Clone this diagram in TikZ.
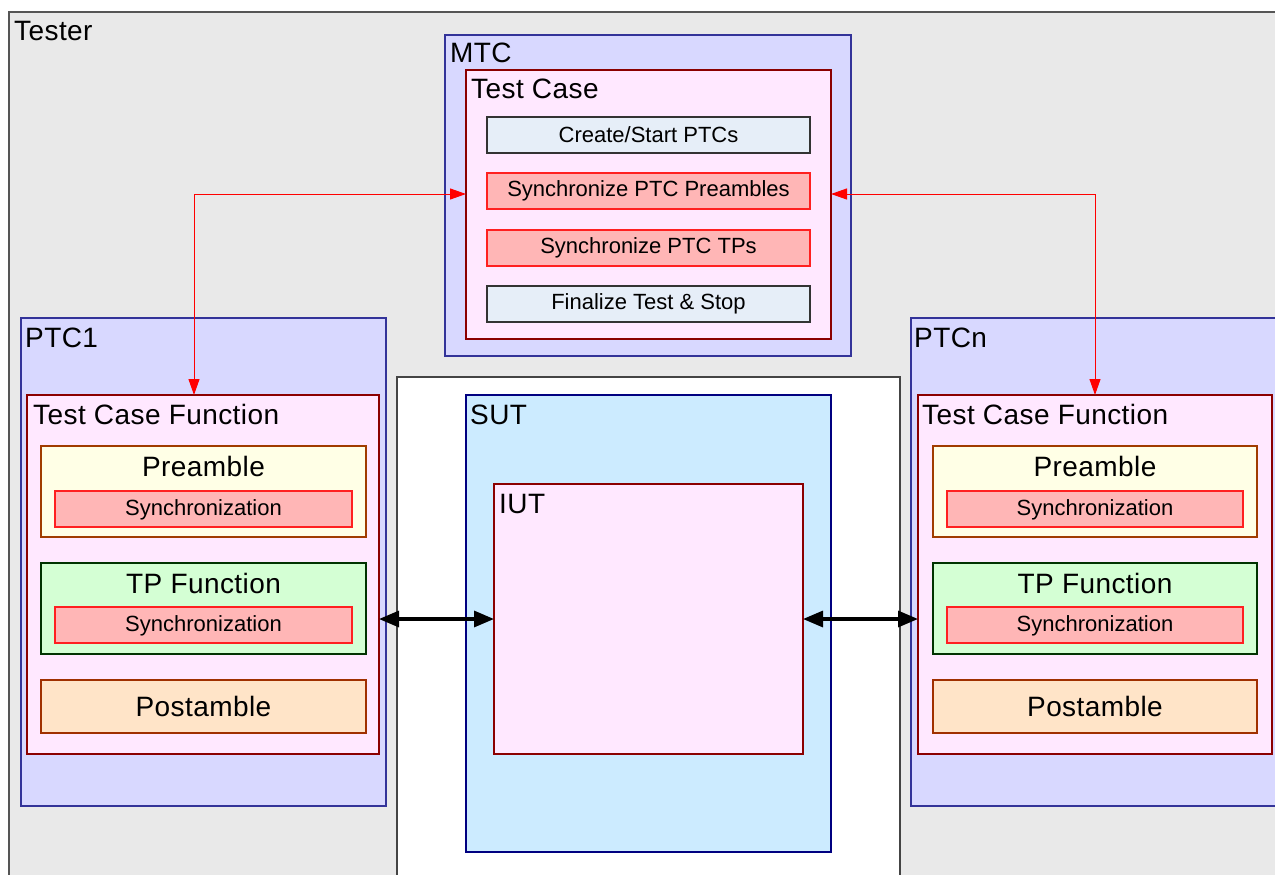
\documentclass[tikz,border=0pt]{standalone}
\usepackage{fontspec}
\setmainfont{Liberation Sans}
\newfontfamily\lblfont[LetterSpace=1.5]{Liberation Sans}
\usetikzlibrary{arrows.meta}
\definecolor{testerfill}{HTML}{E9E9E9}
\definecolor{testerdraw}{HTML}{555555}
\definecolor{ptcfill}{HTML}{D8D8FF}
\definecolor{ptcdraw}{HTML}{333399}
\definecolor{pinkfill}{HTML}{FFE8FF}
\definecolor{pinkdraw}{HTML}{8B0000}
\definecolor{stepfill}{HTML}{E6EEF8}
\definecolor{stepdraw}{HTML}{333333}
\definecolor{syncfill}{HTML}{FFB6B6}
\definecolor{syncdraw}{HTML}{FF2020}
\definecolor{prefill}{HTML}{FFFFE6}
\definecolor{predraw}{HTML}{A03C00}
\definecolor{tpfill}{HTML}{D4FFD4}
\definecolor{tpdraw}{HTML}{003300}
\definecolor{postfill}{HTML}{FFE4C8}
\definecolor{postdraw}{HTML}{A03000}
\definecolor{sutfill}{HTML}{CCEBFF}
\definecolor{sutdraw}{HTML}{000080}
\definecolor{envdraw}{HTML}{444444}
\tikzset{
  box/.style={draw, line width=1.2pt, inner sep=0pt, outer sep=0pt, anchor=north west},
  lbl/.style={inner sep=0pt, anchor=base west, font=\lblfont\fontsize{28}{32}\selectfont},
  mid/.style={inner sep=0pt, anchor=base, font=\lblfont\fontsize{28}{32}\selectfont},
  small/.style={inner sep=0pt, font=\fontsize{22}{26}\selectfont},
  redarr/.style={draw=red, line width=1pt, {Triangle[length=16pt,width=11pt]}-{Triangle[length=16pt,width=11pt]}, red},
  blkarr/.style={draw=black, line width=3.2pt, {Triangle[length=20pt,width=16pt]}-{Triangle[length=20pt,width=16pt]}}
}
\begin{document}
\begin{tikzpicture}[x=1pt,y=-1pt]
\useasboundingbox (0,0) rectangle (1275,875);
\clip (0,0) rectangle (1275,875);
% Tester
\node[box, fill=testerfill, draw=testerdraw, line width=2pt, minimum width=1300pt, minimum height=900pt] (tester) at (9,12) {};
\node[lbl] (ttester) at (14,41) {Tester};
% MTC
\node[box, fill=ptcfill, draw=ptcdraw, minimum width=406pt, minimum height=321pt] (mtc) at (445,35) {};
\node[lbl] (tmtc) at (450,63) {MTC};
\node[box, fill=pinkfill, draw=pinkdraw, minimum width=365pt, minimum height=269pt] (tc) at (466,70) {};
\node[lbl] (ttc) at (471,99) {Test Case};
\node[box, fill=stepfill, draw=stepdraw, minimum width=323pt, minimum height=36pt] (s1) at (487,117) {};
\node[small] at (s1.center) {Create/Start PTCs};
\node[box, fill=syncfill, draw=syncdraw, minimum width=323pt, minimum height=36pt] (s2) at (487,173) {};
\node[small] at (s2.center) {Synchronize PTC Preambles};
\node[box, fill=syncfill, draw=syncdraw, minimum width=323pt, minimum height=36pt] (s3) at (487,230) {};
\node[small] at (s3.center) {Synchronize PTC TPs};
\node[box, fill=stepfill, draw=stepdraw, minimum width=323pt, minimum height=36pt] (s4) at (487,286) {};
\node[small] at (s4.center) {Finalize Test \& Stop};
% PTC1
\node[box, fill=ptcfill, draw=ptcdraw, minimum width=365pt, minimum height=488pt] (ptc1) at (21,318) {};
\node[lbl] (tptc1) at (25,347) {PTC1};
\node[box, fill=pinkfill, draw=pinkdraw, minimum width=352pt, minimum height=359pt] (tcfL) at (27,395) {};
\node[lbl] (ttcfL) at (33,424) {Test Case Function};
\node[box, fill=prefill, draw=predraw, minimum width=325pt, minimum height=91pt] (preL) at (41,446) {};
\node[mid] (tpreL) at (203.5,476) {Preamble};
\node[box, fill=syncfill, draw=syncdraw, minimum width=297pt, minimum height=36pt] (syL1) at (55,491) {};
\node[small] at ([yshift=-1pt]syL1.center) {Synchronization};
\node[box, fill=tpfill, draw=tpdraw, minimum width=325pt, minimum height=91pt] (tpL) at (41,563) {};
\node[mid] (ttpL) at (203.5,593) {TP Function};
\node[box, fill=syncfill, draw=syncdraw, minimum width=297pt, minimum height=36pt] (syL2) at (55,607) {};
\node[small] at ([yshift=-1pt]syL2.center) {Synchronization};
\node[box, fill=postfill, draw=postdraw, minimum width=325pt, minimum height=53pt] (postL) at (41,680) {};
\node[inner sep=0pt, font=\lblfont\fontsize{28}{32}\selectfont] at (postL.center) {Postamble};
% SUT environment
\node[box, fill=white, draw=envdraw, minimum width=503pt, minimum height=600pt] (env) at (397,377) {};
\node[box, fill=sutfill, draw=sutdraw, minimum width=365pt, minimum height=457pt] (sut) at (466,395) {};
\node[lbl] (tsut) at (470,424) {SUT};
\node[box, fill=pinkfill, draw=pinkdraw, minimum width=309pt, minimum height=270pt] (iut) at (494,484) {};
\node[lbl] (tiut) at (499,513) {IUT};
% PTCn
\node[box, fill=ptcfill, draw=ptcdraw, minimum width=400pt, minimum height=488pt] (ptcn) at (911,318) {};
\node[lbl] (tptcn) at (914,347) {PTCn};
\node[box, fill=pinkfill, draw=pinkdraw, minimum width=354pt, minimum height=359pt] (tcfR) at (918,395) {};
\node[lbl] (ttcfR) at (922,424) {Test Case Function};
\node[box, fill=prefill, draw=predraw, minimum width=324pt, minimum height=91pt] (preR) at (933,446) {};
\node[mid] (tpreR) at (1095,476) {Preamble};
\node[box, fill=syncfill, draw=syncdraw, minimum width=296pt, minimum height=36pt] (syR1) at (947,491) {};
\node[small] at ([yshift=-1pt]syR1.center) {Synchronization};
\node[box, fill=tpfill, draw=tpdraw, minimum width=324pt, minimum height=91pt] (tpR) at (933,563) {};
\node[mid] (ttpR) at (1095,593) {TP Function};
\node[box, fill=syncfill, draw=syncdraw, minimum width=296pt, minimum height=36pt] (syR2) at (947,607) {};
\node[small] at ([yshift=-1pt]syR2.center) {Synchronization};
\node[box, fill=postfill, draw=postdraw, minimum width=324pt, minimum height=53pt] (postR) at (933,680) {};
\node[inner sep=0pt, font=\lblfont\fontsize{28}{32}\selectfont] at (postR.center) {Postamble};
% connectors
\coordinate (rl) at (194,194);
\coordinate (rr) at (1095,194);
\draw[redarr] (rl |- tcfL.north) |- (tc.west |- rl);
\draw[redarr] (tc.east |- rr) -| (rr |- tcfR.north);
\draw[blkarr] (tcfL.east |- iut.west) -- (iut.west);
\draw[blkarr] (iut.east) -- (tcfR.west |- iut.east);
\end{tikzpicture}
\end{document}
